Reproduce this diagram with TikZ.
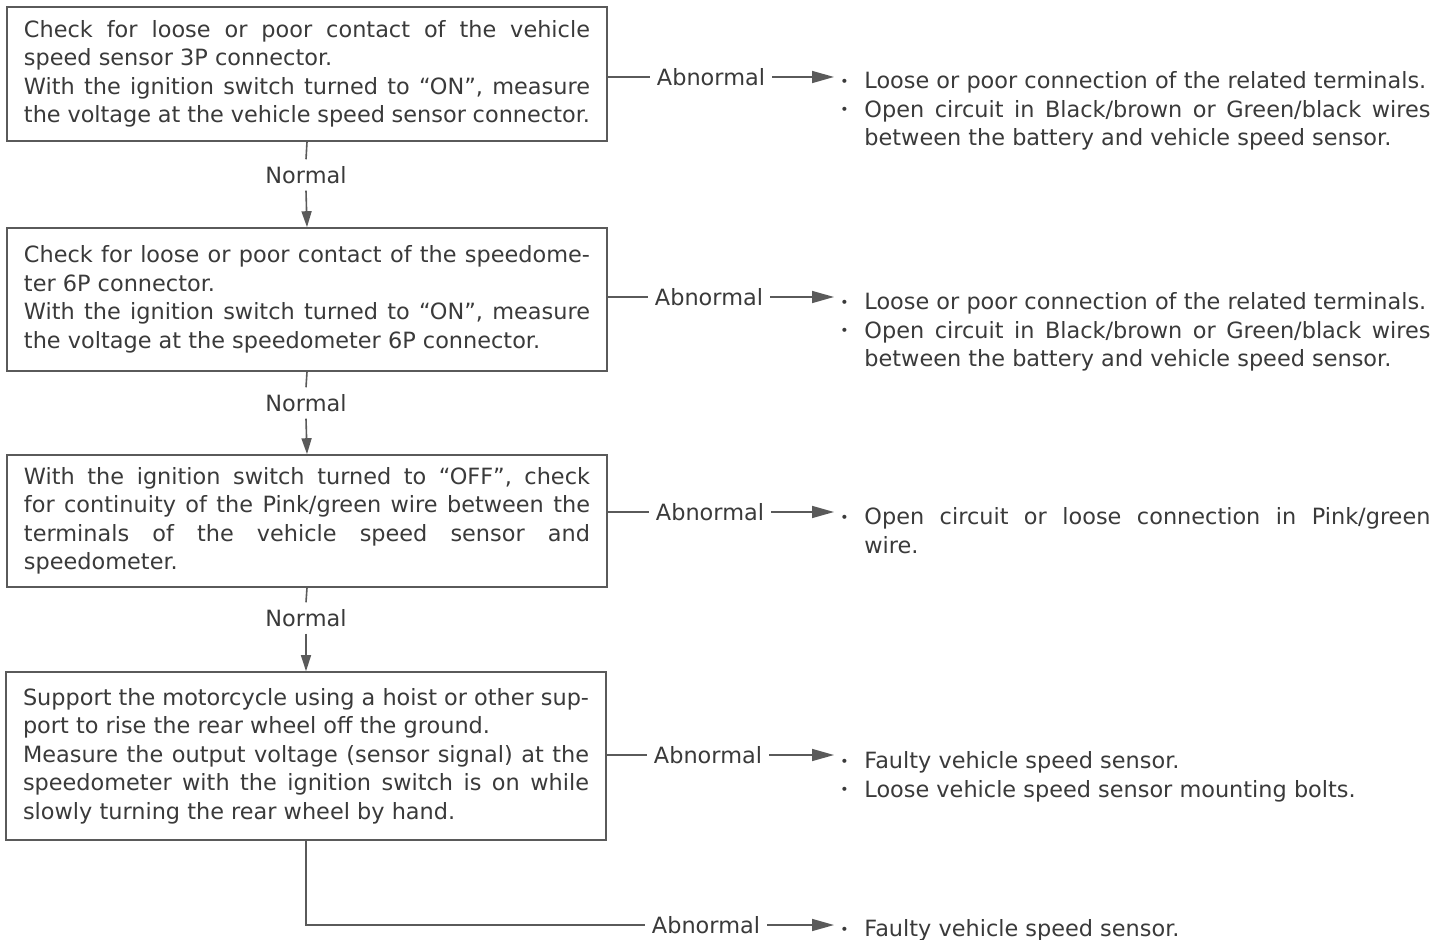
\documentclass[tikz,border=0pt]{standalone}
\usepackage{fontspec}
\setmainfont{DejaVu Sans}
\usepackage{tikz}
\usetikzlibrary{positioning, arrows.meta}
\definecolor{ink}{HTML}{3A3A3A}
\definecolor{wire}{HTML}{5A5A5A}
\newcommand{\bitem}[1]{\par\hangindent=15pt\hangafter=1\noindent\hbox to 15pt{\hskip3pt\raisebox{0.2ex}{\scriptsize\textbullet}\hfil}#1\par}

\begin{document}
\begin{tikzpicture}[
  x=0.5pt, y=-0.5pt,
  check/.style={draw=wire, line width=0.8pt, text=ink, text width=283pt, inner xsep=8.5pt, minimum width=300pt, align=justify, font=\fontsize{11.2}{14.25}\selectfont},
  lbl/.style={text=ink, font=\fontsize{11.2}{14.25}\selectfont},
  result/.style={anchor=north west, inner xsep=0pt, inner ysep=0pt, text=ink, text width=298pt, align=justify, font=\fontsize{11.2}{14.25}\selectfont},
  link/.style={draw=wire, line width=0.8pt},
  arrow/.style={link, -{Triangle[length=11pt, width=6pt]}},
  down/.style={link, -{Triangle[length=8pt, width=5pt]}}
]
  \useasboundingbox (0,0) rectangle (1449,940);

  \node[check, minimum height=67pt] (b1) at (307,74) {Check for loose or poor contact of the vehicle\linebreak speed sensor 3P connector.\par With the ignition switch turned to ``ON'', measure\linebreak the voltage at the vehicle speed sensor connector.};
  \node[check, minimum height=71.5pt] (b2) at (307,299.5) {Check for loose or poor contact of the speedome-\linebreak ter 6P connector.\par With the ignition switch turned to ``ON'', measure\linebreak the voltage at the speedometer 6P connector.};
  \node[check, minimum height=66pt] (b3) at (307,521) {With the ignition switch turned to ``OFF'', check\linebreak for continuity of the Pink/green wire between the\linebreak terminals of the vehicle speed sensor and\linebreak speedometer.};
  \node[check, minimum height=84pt] (b4) at (306,756) {Support the motorcycle using a hoist or other sup-\linebreak port to rise the rear wheel off the ground.\par Measure the output voltage (sensor signal) at the\linebreak speedometer with the ignition switch is on while\linebreak slowly turning the rear wheel by hand.};

  \node[lbl] (n1) at (306,175) {Normal};
  \node[lbl] (n2) at (306,403) {Normal};
  \node[lbl] (n3) at (306,618) {Normal};

  \node[lbl] (ab1) at (711,77) {Abnormal};
  \node[lbl] (ab2) at (709,297) {Abnormal};
  \node[lbl] (ab3) at (710,512) {Abnormal};
  \node[lbl] (ab4) at (708,755) {Abnormal};
  \node[lbl] (ab5) at (706,925) {Abnormal};

  \node[result] (r1) at (834,60) {\bitem{Loose or poor connection of the related terminals.}\bitem{Open circuit in Black/brown or Green/black wires\linebreak between the battery and vehicle speed sensor.}};
  \node[result] (r2) at (834,281) {\bitem{Loose or poor connection of the related terminals.}\bitem{Open circuit in Black/brown or Green/black wires\linebreak between the battery and vehicle speed sensor.}};
  \node[result] (r3) at (834,496) {\bitem{Open circuit or loose connection in Pink/green\linebreak wire.}};
  \node[result] (r4) at (834,740) {\bitem{Faulty vehicle speed sensor.}\bitem{Loose vehicle speed sensor mounting bolts.}};
  \node[result] (r5) at (834,908) {\bitem{Faulty vehicle speed sensor.}};

  % normal path
  \draw[link] (b1.south) -- (n1.north);
  \draw[down] (n1.south) -- (b2.north);
  \draw[link] (b2.south) -- (n2.north);
  \draw[down] (n2.south) -- (b3.north);
  \draw[link] (b3.south) -- (n3.north);
  \draw[down] (n3.south) -- (b4.north);

  % abnormal branches
  \draw[link] (b1.east |- ab1) -- (ab1.west);
  \draw[arrow] (ab1.east) -- (ab1.east -| r1.west);
  \draw[link] (b2.east |- ab2) -- (ab2.west);
  \draw[arrow] (ab2.east) -- (ab2.east -| r2.west);
  \draw[link] (b3.east |- ab3) -- (ab3.west);
  \draw[arrow] (ab3.east) -- (ab3.east -| r3.west);
  \draw[link] (b4.east |- ab4) -- (ab4.west);
  \draw[arrow] (ab4.east) -- (ab4.east -| r4.west);
  \draw[link] (b4.south) |- (ab5.west);
  \draw[arrow] (ab5.east) -- (ab5.east -| r5.west);
\end{tikzpicture}
\end{document}
